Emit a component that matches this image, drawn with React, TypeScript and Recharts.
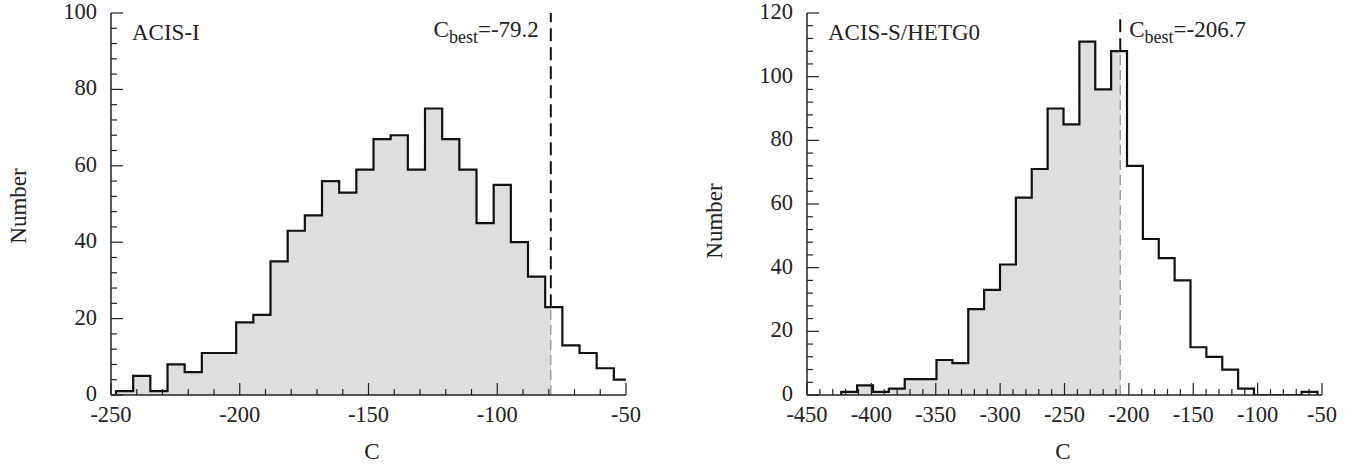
import React from 'react';
import { ComposedChart, Line, Area, XAxis, YAxis, ReferenceLine, Customized } from 'recharts';

// ---------- data ----------
const leftCounts = [1, 5, 1, 8, 6, 11, 11, 19, 21, 35, 43, 47, 56, 53, 59, 67, 68, 59, 75, 67, 59, 45, 55, 40, 31, 23, 13, 11, 7, 4];
const leftBinStart = -248.06;
const leftBinWidth = 6.667;
const leftCbest = -79.2;
const leftPercent = '95.1%';
const leftTitle = 'ACIS-I';
const leftXDomain = [-250, -50];
const leftYDomain = [0, 100];

const rightCounts = [1, 3, 1, 2, 5, 5, 11, 10, 27, 33, 41, 62, 71, 90, 85, 111, 96, 108, 72, 49, 43, 36, 15, 12, 8, 2, 0, 0, 0, 1];
const rightBinStart = -423.4;
const rightBinWidth = 12.33;
const rightCbest = -206.7;
const rightPercent = '72.0%';
const rightTitle = 'ACIS-S/HETG0';
const rightXDomain = [-450, -50];
const rightYDomain = [0, 120];

const xTickStep = 10;
const xMajorStep = 50;
const yTickStep = 4;
const yMajorStep = 20;

const FONT = 'Liberation Serif, Times New Roman, Times, serif';
const FILL = '#dddee0';
const TS = { fontFamily: FONT } as React.CSSProperties;
const TICK_FS = 22.5;
const ANN_FS = 23;

function range(a: number, b: number, s: number) {
  const out: number[] = [];
  for (let v = a; v <= b + 1e-9; v += s) out.push(Math.round(v * 1000) / 1000);
  return out;
}

function buildRows(counts: number[], start: number, width: number, cbest: number) {
  const rows: any[] = [{ x: start, count: 0, fill: 0 }];
  counts.forEach((c, i) => {
    const x0 = start + i * width;
    const x1 = x0 + width;
    rows.push({ x: x0, count: c, fill: x0 < cbest ? c : null });
    if (cbest > x0 && cbest < x1) rows.push({ x: cbest, count: c, fill: c });
  });
  const end = start + counts.length * width;
  rows.push({ x: end, count: counts[counts.length - 1], fill: null });
  rows.push({ x: end, count: 0, fill: null });
  return rows;
}

function countAt(counts: number[], start: number, width: number, x: number) {
  const i = Math.floor((x - start) / width);
  return counts[Math.max(0, Math.min(counts.length - 1, i))];
}

type PanelProps = {
  counts: number[];
  binStart: number;
  binWidth: number;
  cbest: number;
  percent: string;
  title: string;
  xDomain: number[];
  yDomain: number[];
  yAxisWidth: number;
  rightMargin: number;
  percentPos: [number, number];
  cbestLeft: boolean;
  numberY: number;
  cX: number;
};

function Panel(p: PanelProps) {
  const rows = buildRows(p.counts, p.binStart, p.binWidth, p.cbest);
  const cb = countAt(p.counts, p.binStart, p.binWidth, p.cbest);
  const xTicks = range(p.xDomain[0], p.xDomain[1], xTickStep);
  const yTicks = range(p.yDomain[0], p.yDomain[1], yTickStep);

  const xTickBottom = (t: any) => {
    const v = t.payload.value;
    const major = Math.abs(v % xMajorStep) < 1e-6;
    const len = major ? 12 : 6;
    return (
      <g>
        <line x1={t.x} x2={t.x} y1={t.y} y2={t.y - len} stroke="#222" strokeWidth={1.2} />
        {major && (
          <text x={t.x} y={t.y + 27} textAnchor="middle" style={TS} fontSize={TICK_FS} fill="#222">
            {v}
          </text>
        )}
      </g>
    );
  };
  const xTickTop = (t: any) => {
    const v = t.payload.value;
    const major = Math.abs(v % xMajorStep) < 1e-6;
    const len = major ? 12 : 6;
    return <line x1={t.x} x2={t.x} y1={t.y} y2={t.y + len} stroke="#222" strokeWidth={1.2} />;
  };
  const yTickLeft = (t: any) => {
    const v = t.payload.value;
    const major = Math.abs(v % yMajorStep) < 1e-6;
    const len = major ? 12 : 6;
    return (
      <g>
        <line x1={t.x} x2={t.x + len} y1={t.y} y2={t.y} stroke="#222" strokeWidth={1.2} />
        {major && (
          <text x={t.x - 14} y={t.y + 6} textAnchor="end" style={TS} fontSize={TICK_FS} fill="#222">
            {v}
          </text>
        )}
      </g>
    );
  };
  const yTickRight = (t: any) => {
    const v = t.payload.value;
    const major = Math.abs(v % yMajorStep) < 1e-6;
    const len = major ? 12 : 6;
    return <line x1={t.x} x2={t.x - len} y1={t.y} y2={t.y} stroke="#222" strokeWidth={1.2} />;
  };

  const cbestLabel = (lp: any) => {
    const vb = lp.viewBox || {};
    const x = vb.x ?? 0;
    return (
      <text
        x={p.cbestLeft ? x - 12 : x + 9}
        y={37}
        textAnchor={p.cbestLeft ? 'end' : 'start'}
        style={TS}
        fontSize={ANN_FS}
        fill="#222"
      >
        <tspan>C</tspan>
        <tspan dy={6} fontSize={18}>best</tspan>
        <tspan dy={-6}>={p.cbest}</tspan>
      </text>
    );
  };

  const Texts = () => (
    <g>
      <text x={p.yAxisWidth + 21} y={40} style={TS} fontSize={ANN_FS} fill="#222">
        {p.title}
      </text>
      <text x={p.percentPos[0]} y={p.percentPos[1]} textAnchor="middle" style={TS} fontSize={ANN_FS} fill="#222">
        {p.percent}
      </text>
    </g>
  );

  return (
    <ComposedChart
      width={680}
      height={468}
      data={rows}
      margin={{ top: 13, right: p.rightMargin, bottom: 0, left: 0 }}
    >
      <XAxis
        xAxisId="b"
        type="number"
        dataKey="x"
        domain={p.xDomain}
        allowDataOverflow
        ticks={xTicks}
        interval={0}
        tick={xTickBottom}
        tickSize={0}
        tickMargin={0}
        tickLine={false}
        axisLine={{ stroke: '#222', strokeWidth: 1.5 }}
        height={73}
        label={{
          content: () => (
            <text x={p.cX} y={459} textAnchor="middle" style={TS} fontSize={ANN_FS} fill="#222">
              C
            </text>
          ),
        }}
      />
      <XAxis
        xAxisId="t"
        orientation="top"
        type="number"
        dataKey="x"
        domain={p.xDomain}
        allowDataOverflow
        ticks={xTicks}
        interval={0}
        tick={xTickTop}
        tickSize={0}
        tickMargin={0}
        tickLine={false}
        axisLine={{ stroke: '#222', strokeWidth: 1.5 }}
        height={0}
      />
      <YAxis
        yAxisId="l"
        type="number"
        domain={p.yDomain}
        allowDataOverflow
        ticks={yTicks}
        interval={0}
        tick={yTickLeft}
        tickSize={0}
        tickMargin={0}
        tickLine={false}
        axisLine={{ stroke: '#222', strokeWidth: 1.5 }}
        width={p.yAxisWidth}
        label={{
          content: () => {
            const x = p.yAxisWidth - 93;
            return (
              <text
                x={x}
                y={p.numberY}
                textAnchor="middle"
                transform={`rotate(-90 ${x} ${p.numberY})`}
                style={TS}
                fontSize={ANN_FS}
                fill="#222"
                dominantBaseline="central"
              >
                Number
              </text>
            );
          },
        }}
      />
      <YAxis
        yAxisId="r"
        orientation="right"
        type="number"
        domain={p.yDomain}
        allowDataOverflow
        ticks={yTicks}
        interval={0}
        tick={yTickRight}
        tickSize={0}
        tickMargin={0}
        tickLine={false}
        axisLine={{ stroke: '#222', strokeWidth: 1.5 }}
        width={0}
      />
      <Area
        xAxisId="b"
        yAxisId="l"
        type="stepAfter"
        dataKey="fill"
        stroke="none"
        fill={FILL}
        fillOpacity={1}
        connectNulls={false}
        isAnimationActive={false}
        dot={false}
        activeDot={false}
      />
      <ReferenceLine
        xAxisId="b"
        yAxisId="l"
        segment={[{ x: p.cbest, y: 0 }, { x: p.cbest, y: cb }]}
        stroke="#8c8c8c"
        strokeWidth={1.2}
        strokeDasharray="10 5"
      />
      <ReferenceLine
        xAxisId="b"
        yAxisId="l"
        segment={[{ x: p.cbest, y: cb }, { x: p.cbest, y: p.yDomain[1] }]}
        stroke="#111"
        strokeWidth={2}
        strokeDasharray="13 6"
        label={cbestLabel}
      />
      <Line
        xAxisId="b"
        yAxisId="l"
        type="stepAfter"
        dataKey="count"
        stroke="#111"
        strokeWidth={2.2}
        dot={false}
        activeDot={false}
        isAnimationActive={false}
      />
      <Customized component={Texts} />
    </ComposedChart>
  );
}

export default function App() {
  return (
    <div style={{ position: 'absolute', left: 0, top: 0, width: 1360, height: 468, background: '#fff', fontFamily: FONT }}>
      <div style={{ position: 'absolute', left: 0, top: 0 }}>
        <Panel
          counts={leftCounts}
          binStart={leftBinStart}
          binWidth={leftBinWidth}
          cbest={leftCbest}
          percent={leftPercent}
          title={leftTitle}
          xDomain={leftXDomain}
          yDomain={leftYDomain}
          yAxisWidth={111}
          rightMargin={54}
          percentPos={[398, 290]}
          cbestLeft={true}
          numberY={206}
          cX={372}
        />
      </div>
      <div style={{ position: 'absolute', left: 680, top: 0 }}>
        <Panel
          counts={rightCounts}
          binStart={rightBinStart}
          binWidth={rightBinWidth}
          cbest={rightCbest}
          percent={rightPercent}
          title={rightTitle}
          xDomain={rightXDomain}
          yDomain={rightYDomain}
          yAxisWidth={127}
          rightMargin={38}
          percentPos={[388, 307]}
          cbestLeft={false}
          numberY={221}
          cX={383}
        />
      </div>
    </div>
  );
}
